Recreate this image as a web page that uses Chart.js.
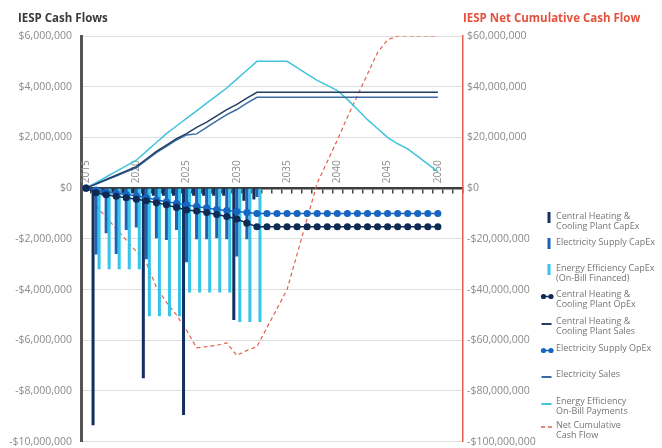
<!DOCTYPE html>
<html>
<head>
<meta charset="utf-8">
<script src="https://cdn.jsdelivr.net/npm/chart.js@4.4.1/dist/chart.umd.min.js"></script>
<style>
  html, body { margin: 0; padding: 0; background: #fff; overflow: hidden; height: 448px; }
  #wrap { width: 662px; height: 457px; position: relative; }
</style>
</head>
<body>
<div id="wrap"><canvas id="cashFlowChart"></canvas></div>
<script>
// values in millions of dollars, one entry per year starting 2015
const years = ["2015", "2016", "2017", "2018", "2019", "2020", "2021", "2022", "2023", "2024",
    "2025", "2026", "2027", "2028", "2029", "2030", "2031", "2032", "2033", "2034",
    "2035", "2036", "2037", "2038", "2039", "2040", "2041", "2042", "2043", "2044",
    "2045", "2046", "2047", "2048", "2049", "2050", "2051", "2052"];
const yearTicks = ["2015", "2020", "2025", "2030", "2035", "2040", "2045", "2050"];

const chCapex = [null, -9.35, -0.3, -0.2, -0.2, -0.2, -7.5, -0.3, -0.3, -0.3,
    -8.95, -0.3, -0.3, -0.3, -0.3, -5.2, -0.5, -0.45];
const esCapex = [null, -2.62, -1.78, -2.6, -1.65, -1.55, -2.8, -1.98, -2.05, -1.65,
    -2.92, -2.02, -2.02, -1.98, -2.02, -2.7, -2.02, -0.35];
const eeCapex = [null, -3.2, -3.2, -3.2, -3.2, -3.2, -5.05, -5.05, -5.05, -5.05,
    -4.12, -4.12, -4.12, -4.12, -4.12, -5.28, -5.28, -5.28];

const chOpex = [0, -0.18, -0.26, -0.32, -0.38, -0.44, -0.5, -0.58, -0.66, -0.76,
    -0.86, -0.9, -0.96, -1.04, -1.12, -1.22, -1.38, -1.52, -1.52, -1.52,
    -1.52, -1.52, -1.52, -1.52, -1.52, -1.52, -1.52, -1.52, -1.52, -1.52,
    -1.52, -1.52, -1.52, -1.52, -1.52, -1.52];
const chSales = [0, 0.17, 0.34, 0.51, 0.68, 0.85, 1.15, 1.45, 1.7, 1.95,
    2.15, 2.4, 2.6, 2.85, 3.1, 3.3, 3.55, 3.78, 3.78, 3.78,
    3.78, 3.78, 3.78, 3.78, 3.78, 3.78, 3.78, 3.78, 3.78, 3.78,
    3.78, 3.78, 3.78, 3.78, 3.78, 3.78];
const esOpex = [0, -0.08, -0.14, -0.2, -0.25, -0.3, -0.38, -0.46, -0.54, -0.6,
    -0.66, -0.72, -0.78, -0.84, -0.88, -0.92, -0.96, -1.0, -1.0, -1.0,
    -1.0, -1.0, -1.0, -1.0, -1.0, -1.0, -1.0, -1.0, -1.0, -1.0,
    -1.0, -1.0, -1.0, -1.0, -1.0, -1.0];
const elSales = [0, 0.16, 0.32, 0.48, 0.64, 0.8, 1.1, 1.4, 1.65, 1.9,
    2.1, 2.14, 2.4, 2.65, 2.9, 3.1, 3.35, 3.58, 3.58, 3.58,
    3.58, 3.58, 3.58, 3.58, 3.58, 3.58, 3.58, 3.58, 3.58, 3.58,
    3.58, 3.58, 3.58, 3.58, 3.58, 3.58];
const eePay = [0, 0.22, 0.44, 0.66, 0.88, 1.1, 1.45, 1.8, 2.15, 2.45,
    2.75, 3.05, 3.35, 3.65, 3.95, 4.3, 4.65, 5.0, 5.0, 5.0,
    5.0, 4.75, 4.5, 4.25, 4.05, 3.85, 3.5, 3.1, 2.7, 2.35,
    2.0, 1.75, 1.55, 1.25, 0.95, 0.65];
// right axis
const netCum = [null, -7, -11.5, -16, -20.5, -25, -29.5, -39, -45, -50,
    -56, -63, -62.5, -62, -61, -66, -64, -62.5, -55, -47.5,
    -40, -26, -12, 2, 10.5, 19, 28, 36.5, 45, 53.5,
    58.5, 60, 60, 60, 60, 60];

const fmtMoney = (v) => {
    const s = "$" + Math.abs(v * 1000000).toLocaleString("en-US");
    return v < 0 ? "-" + s : s;
};

const legendItems = [
    { ds: 0, kind: "bar", y: 216, lines: ["Central Heating &", "Cooling Plant CapEx"] },
    { ds: 1, kind: "bar", y: 242, lines: ["Electricity Supply CapEx"] },
    { ds: 2, kind: "bar", y: 268, lines: ["Energy Efficiency CapEx", "(On-Bill Financed)"] },
    { ds: 3, kind: "dots", y: 294, lines: ["Central Heating &", "Cooling Plant OpEx"] },
    { ds: 4, kind: "line", y: 321, lines: ["Central Heating &", "Cooling Plant Sales"] },
    { ds: 5, kind: "dots", y: 348, lines: ["Electricity Supply OpEx"] },
    { ds: 6, kind: "line", y: 374, lines: ["Electricity Sales"] },
    { ds: 7, kind: "line", y: 401, lines: ["Energy Efficiency", "On-Bill Payments"] },
    { ds: 8, kind: "dash", y: 425, lines: ["Net Cumulative", "Cash Flow"] },
];

const yearLabelsPlugin = {
    id: "yearLabels",
    beforeDatasetsDraw(chart) {
        const { ctx, scales } = chart;
        const y0 = scales.y.getPixelForValue(0);
        ctx.save();
        ctx.font = '10px "Open Sans"';
        ctx.fillStyle = "#8c8c8c";
        ctx.textAlign = "left";
        ctx.textBaseline = "middle";
        yearTicks.forEach((yr) => {
            const px = scales.x.getPixelForValue(years.indexOf(yr));
            ctx.save();
            ctx.translate(px, y0 - 5);
            ctx.rotate(-Math.PI / 2);
            ctx.fillText(yr, 0, 0);
            ctx.restore();
        });
        ctx.restore();
    },
};

const titlesAndLegendPlugin = {
    id: "titlesAndLegend",
    afterDraw(chart) {
        const ctx = chart.ctx;
        const area = chart.chartArea;
        ctx.save();
        ctx.textBaseline = "middle";
        ctx.textAlign = "left";
        ctx.font = 'bold 11.5px "Open Sans"';
        ctx.fillStyle = "#3a3a3a";
        ctx.fillText("IESP Cash Flows", 18, 19);
        ctx.fillStyle = "#e4523e";
        ctx.fillText("IESP Net Cumulative Cash Flow", area.right, 19);

        // legend
        ctx.font = '9px "Open Sans"';
        legendItems.forEach((item) => {
            const ds = chart.data.datasets[item.ds];
            const color = ds.borderColor || ds.backgroundColor;
            ctx.fillStyle = ds.backgroundColor || color;
            ctx.strokeStyle = color;
            if (item.kind === "bar") {
                ctx.fillRect(547.5, item.y - 4, 3, 11);
            } else if (item.kind === "dots") {
                ctx.lineWidth = 1.5;
                ctx.beginPath();
                ctx.moveTo(543.5, item.y + 2.5);
                ctx.lineTo(551, item.y + 2.5);
                ctx.stroke();
                [543.5, 551].forEach((cx) => {
                    ctx.beginPath();
                    ctx.arc(cx, item.y + 2.5, 2.6, 0, Math.PI * 2);
                    ctx.fill();
                });
            } else if (item.kind === "line") {
                ctx.lineWidth = 2;
                ctx.beginPath();
                ctx.moveTo(541.5, item.y + 3);
                ctx.lineTo(551.5, item.y + 3);
                ctx.stroke();
            } else {
                ctx.lineWidth = 1.6;
                ctx.setLineDash([4, 3]);
                ctx.beginPath();
                ctx.moveTo(541, item.y + 2);
                ctx.lineTo(552, item.y + 2);
                ctx.stroke();
                ctx.setLineDash([]);
            }
            ctx.fillStyle = "#767676";
            item.lines.forEach((line, i) => {
                ctx.fillText(line, 556, item.y + i * 10.5);
            });
        });
        ctx.restore();
    },
};

Chart.defaults.font.family = '"Open Sans", sans-serif';

const ctx = document.getElementById("cashFlowChart").getContext("2d");
const cashFlowChart = new Chart(ctx, {
    type: "bar",
    data: {
        labels: years,
        datasets: [
            {
                label: "Central Heating & Cooling Plant CapEx",
                data: chCapex,
                backgroundColor: "#13305e",
                order: 2,
            },
            {
                label: "Electricity Supply CapEx",
                data: esCapex,
                backgroundColor: "#1d63b5",
                order: 2,
            },
            {
                label: "Energy Efficiency CapEx (On-Bill Financed)",
                data: eeCapex,
                backgroundColor: "#38c3e8",
                order: 2,
            },
            {
                type: "line",
                label: "Central Heating & Cooling Plant OpEx",
                data: chOpex,
                borderColor: "#0f2b55",
                backgroundColor: "#0f2b55",
                borderWidth: 1.5,
                pointRadius: 2.8,
                order: 1,
            },
            {
                type: "line",
                label: "Central Heating & Cooling Plant Sales",
                data: chSales,
                borderColor: "#233d63",
                borderWidth: 1.5,
                pointRadius: 0,
                order: 1,
            },
            {
                type: "line",
                label: "Electricity Supply OpEx",
                data: esOpex,
                borderColor: "#1766c2",
                backgroundColor: "#1766c2",
                borderWidth: 1.5,
                pointRadius: 2.8,
                order: 1,
            },
            {
                type: "line",
                label: "Electricity Sales",
                data: elSales,
                borderColor: "#3a6ca3",
                borderWidth: 1.5,
                pointRadius: 0,
                order: 1,
            },
            {
                type: "line",
                label: "Energy Efficiency On-Bill Payments",
                data: eePay,
                borderColor: "#41c3dc",
                borderWidth: 1.5,
                pointRadius: 0,
                order: 1,
            },
            {
                type: "line",
                label: "Net Cumulative Cash Flow",
                data: netCum,
                yAxisID: "y2",
                borderColor: "#e2604c",
                borderDash: [4, 3],
                borderWidth: 1.2,
                pointRadius: 0,
                order: 3,
            },
        ],
    },
    options: {
        responsive: true,
        maintainAspectRatio: false,
        animation: false,
        layout: { padding: { top: 36, bottom: 0, left: 0, right: 0 } },
        datasets: {
            bar: { barPercentage: 1, categoryPercentage: 0.9, borderWidth: 0 },
            line: { tension: 0 },
        },
        plugins: {
            legend: { display: false },
            tooltip: { enabled: false },
        },
        scales: {
            x: {
                type: "category",
                position: { y: 0 },
                offset: true,
                ticks: { display: false, autoSkip: false },
                grid: {
                    drawOnChartArea: false,
                    drawTicks: true,
                    tickLength: 4,
                    color: "#444",
                    lineWidth: 1.5,
                    offset: true,
                },
                border: { display: true, color: "#3d3d3d", width: 2.5 },
                afterFit: (scale) => { scale.height = 0; },
            },
            y: {
                position: "left",
                min: -10,
                max: 6,
                ticks: {
                    stepSize: 2,
                    color: "#8a8a8a",
                    padding: 9,
                    font: { size: 10.5 },
                    callback: (v) => fmtMoney(v),
                },
                grid: { color: "#dedede", lineWidth: 1, drawTicks: false },
                border: { display: true, color: "#555", width: 3 },
                afterFit: (scale) => { scale.width = 81; },
            },
            y2: {
                position: "right",
                min: -100,
                max: 60,
                ticks: {
                    stepSize: 20,
                    color: "#8a8a8a",
                    padding: 4,
                    font: { size: 10.5 },
                    callback: (v) => fmtMoney(v),
                },
                grid: { drawOnChartArea: false, drawTicks: false },
                border: { display: true, color: "#e2604c", width: 1.5 },
                afterFit: (scale) => { scale.width = 199; },
            },
        },
    },
    plugins: [yearLabelsPlugin, titlesAndLegendPlugin],
});
</script>
</body>
</html>
